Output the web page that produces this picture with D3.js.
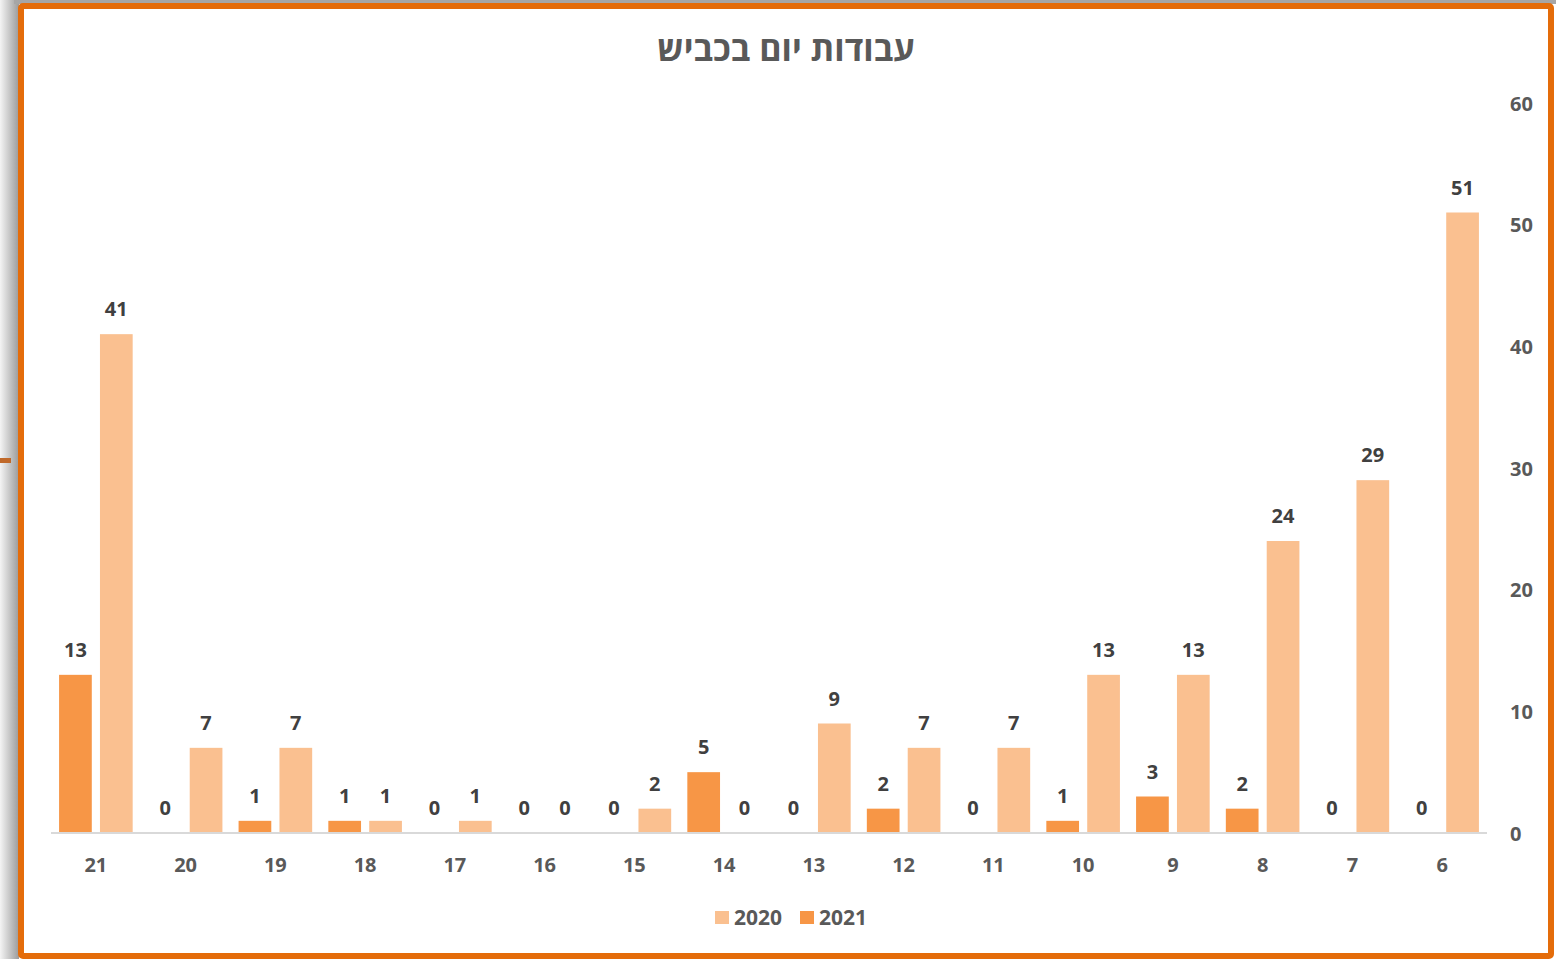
<!DOCTYPE html>
<html>
<head>
<meta charset="utf-8">
<script src="https://cdn.jsdelivr.net/npm/d3@7"></script>
<style>
  body { margin: 0; background: #fff; }
  svg text { font-family: "Open Sans", "DejaVu Sans", sans-serif; font-weight: bold; }
</style>
</head>
<body>
<svg id="chart" width="1556" height="959"></svg>
<script>
// categories, left to right as drawn (right-to-left sheet)
const categories = ['21','20','19','18','17','16','15','14','13','12','11','10','9','8','7','6'];
const values2021 = [13, 0, 1, 1, 0, 0, 0, 5, 0, 2, 0, 1, 3, 2, 0, 0];
const values2020 = [41, 7, 7, 1, 1, 0, 2, 0, 9, 7, 7, 13, 13, 24, 29, 51];
const seriesNames = ['2021', '2020']; // drawn order inside a group
const legendNames = ['2020', '2021'];
const yTicks = [0, 10, 20, 30, 40, 50, 60];

const colors = { '2020': '#FAC090', '2021': '#F79646' };

const svg = d3.select('#chart');
const W = 1556, H = 959;

// shadow on the left / top
const defs = svg.append('defs');
const grad = defs.append('linearGradient').attr('id', 'shadeL').attr('x1', 0).attr('x2', 1).attr('y1', 0).attr('y2', 0);
grad.append('stop').attr('offset', '0%').attr('stop-color', '#f4f4f4');
grad.append('stop').attr('offset', '100%').attr('stop-color', '#9a9a9a');
svg.append('rect').attr('x', 0).attr('y', 0).attr('width', 19).attr('height', H).attr('fill', 'url(#shadeL)');
svg.append('rect').attr('x', 14).attr('y', 0).attr('width', W - 14).attr('height', 4).attr('fill', '#a6a6a6');
svg.append('rect').attr('x', 0).attr('y', 458).attr('width', 11).attr('height', 5).attr('fill', '#c0692a');

// chart frame
svg.append('rect')
  .attr('x', 21).attr('y', 6)
  .attr('width', 1530).attr('height', 950)
  .attr('rx', 2)
  .attr('fill', '#fff')
  .attr('stroke', '#E46C0A')
  .attr('stroke-width', 6);

// title
svg.append('text')
  .attr('x', 786).attr('y', 61)
  .attr('text-anchor', 'middle')
  .attr('direction', 'rtl')
  .style('font-size', '34px')
  .attr('fill', '#595959')
  .text('עבודות יום בכביש');

const plot = { left: 51, right: 1487, top: 103, bottom: 833 };

const x0 = d3.scaleBand().domain(categories).range([plot.left, plot.right])
  .paddingInner(0.18).paddingOuter(0.09);
const x1 = d3.scaleBand().domain(seriesNames).range([0, x0.bandwidth()]).paddingInner(0.2);
const y = d3.scaleLinear().domain([0, 60]).range([plot.bottom, plot.top]);

const rows = categories.map((c, i) => ({ cat: c, '2021': values2021[i], '2020': values2020[i] }));

const groups = svg.append('g').selectAll('g')
  .data(rows).enter().append('g')
  .attr('transform', d => 'translate(' + x0(d.cat) + ',0)');

const cells = groups.selectAll('g.cell')
  .data(d => seriesNames.map(s => ({ key: s, value: d[s] })))
  .enter().append('g').attr('class', 'cell');

cells.append('rect')
  .attr('x', d => x1(d.key))
  .attr('y', d => y(d.value))
  .attr('width', x1.bandwidth())
  .attr('height', d => plot.bottom - y(d.value))
  .attr('fill', d => colors[d.key]);

cells.append('text')
  .attr('x', d => x1(d.key) + x1.bandwidth() / 2)
  .attr('y', d => y(d.value) - 18)
  .attr('text-anchor', 'middle')
  .style('font-size', '20px')
  .attr('fill', '#404040')
  .text(d => d.value);

// axis line
svg.append('line')
  .attr('x1', plot.left).attr('x2', plot.right)
  .attr('y1', plot.bottom).attr('y2', plot.bottom)
  .attr('stroke', '#d9d9d9').attr('stroke-width', 2);

// category labels
svg.append('g').selectAll('text')
  .data(categories).enter().append('text')
  .attr('x', d => x0(d) + x0.bandwidth() / 2)
  .attr('y', 872)
  .attr('text-anchor', 'middle')
  .style('font-size', '20px')
  .attr('fill', '#595959')
  .text(d => d);

// right value axis
const yAxis = d3.axisRight(y).tickValues(yTicks).tickSize(0).tickPadding(0);
const ya = svg.append('g').attr('transform', 'translate(1510,0)').call(yAxis);
ya.select('.domain').remove();
ya.selectAll('text')
  .attr('text-anchor', 'start')
  .attr('dy', '0.35em')
  .style('font-size', '20px')
  .style('font-family', '"Open Sans", "DejaVu Sans", sans-serif')
  .style('font-weight', 'bold')
  .attr('fill', '#595959');

// legend
const legendX = [715, 800];
const leg = svg.append('g').selectAll('g')
  .data(legendNames).enter().append('g')
  .attr('transform', (d, i) => 'translate(' + legendX[i] + ',911)');
leg.append('rect').attr('width', 14).attr('height', 13).attr('fill', d => colors[d]);
leg.append('text')
  .attr('x', 19).attr('y', 14)
  .style('font-size', '21px')
  .attr('fill', '#595959')
  .text(d => d);
</script>
</body>
</html>
